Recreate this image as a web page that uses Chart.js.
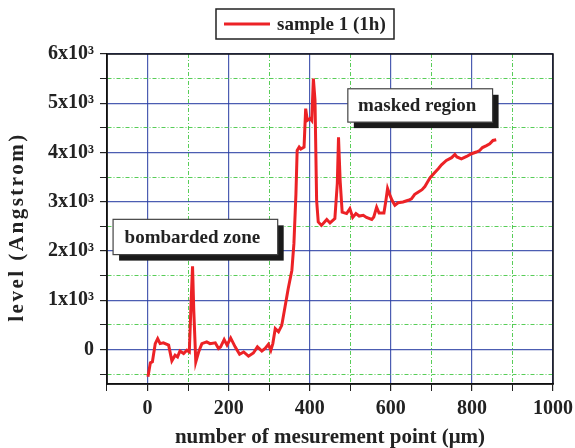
<!DOCTYPE html>
<html>
<head>
<meta charset="utf-8">
<script src="https://cdn.jsdelivr.net/npm/chart.js@4.4.0/dist/chart.umd.min.js"></script>
<style>
  html, body { margin: 0; padding: 0; background: #fff; }
  #wrap { width: 575px; height: 448px; }
</style>
</head>
<body>
<div id="wrap"><canvas id="levelChart"></canvas></div>
<script>
const pointX = [1, 7, 12, 19, 25, 31, 39, 52, 60, 68, 74, 80, 89, 97, 103, 107, 111, 114, 119, 126, 134, 146, 154, 167, 175, 180, 189, 196, 205, 216, 227, 237, 249, 261, 271, 282, 290, 298, 304, 309, 315, 323, 331, 339, 347, 356, 361, 366, 369, 374, 378, 386, 390, 394, 401, 405, 409, 413, 417, 421, 429, 442, 450, 462, 468, 471, 475, 480, 491, 499, 506, 514, 522, 532, 540, 553, 558, 565, 571, 583, 588, 592, 598, 603, 610, 618, 630, 643, 651, 659, 668, 677, 684, 692, 698, 709, 717, 725, 737, 750, 758, 763, 774, 787, 799, 811, 819, 826, 836, 844, 852, 860];
const levelY = [-555, -270, -250, 120, 220, 120, 135, 90, -230, -115, -150, -30, -80, -15, -50, 865, 1690, 800, -250, -50, 120, 155, 120, 135, 20, 50, 200, 90, 235, 55, -95, -50, -135, -70, 55, -30, 20, 105, -15, 120, 425, 360, 490, 865, 1240, 1610, 2150, 3160, 4040, 4110, 4070, 4110, 4890, 4650, 4690, 4650, 5500, 5060, 3030, 2590, 2520, 2640, 2570, 2660, 3370, 4310, 3430, 2790, 2760, 2860, 2680, 2760, 2710, 2725, 2680, 2640, 2690, 2890, 2770, 2770, 3030, 3270, 3130, 3030, 2930, 2980, 2995, 3030, 3060, 3150, 3200, 3245, 3310, 3420, 3500, 3600, 3670, 3750, 3840, 3895, 3960, 3910, 3870, 3920, 3975, 4010, 4040, 4100, 4140, 4175, 4245, 4260];

const xMin = -100, xMax = 1000;
const yMin = -700, yMax = 6000;
const xTicks = [-100, 0, 100, 200, 300, 400, 500, 600, 700, 800, 900, 1000];
const yTicks = [-500, 0, 500, 1000, 1500, 2000, 2500, 3000, 3500, 4000, 4500, 5000, 5500, 6000];

const seriesName = 'sample 1 (1h)';
const yTitle = 'level (Angstrom)';
const xTitle = 'number of mesurement point (\u03BCm)';

// text boxes placed in data units: [label, x0, x1, y0, y1]
const notes = [
  ['bombarded zone', -85, 321, 1927, 2643],
  ['masked region', 494, 851, 4617, 5294]
];

const serif = '"Liberation Serif", "DejaVu Serif", serif';
const red = 'rgb(236, 34, 38)';
const blue = 'rgba(45, 65, 165, 0.85)';
const green = 'rgba(70, 200, 70, 0.9)';

const points = pointX.map((x, i) => ({ x: x, y: levelY[i] }));

function yLabel(v) {
  if (v === 0) return '0';
  if (v % 1000 !== 0) return '';
  return (v / 1000) + 'x10\u00B3';
}

const isMajorX = c => c.tick && c.tick.value % 200 === 0;
const isMajorY = c => c.tick && c.tick.value % 1000 === 0;

// note boxes with drop shadow, plot frame, boxed legend, spaced y title
const decorations = {
  id: 'decorations',
  afterDatasetsDraw(chart) {
    const ctx = chart.ctx;
    const xs = chart.scales.x, ys = chart.scales.y;
    ctx.save();
    notes.forEach(n => {
      const l = xs.getPixelForValue(n[1]), r = xs.getPixelForValue(n[2]);
      const t = ys.getPixelForValue(n[4]), b = ys.getPixelForValue(n[3]);
      ctx.fillStyle = '#1a1a1a';
      ctx.fillRect(l + 6, t + 6, r - l, b - t);
      ctx.fillStyle = '#fff';
      ctx.fillRect(l, t, r - l, b - t);
      ctx.strokeStyle = '#444';
      ctx.lineWidth = 1.2;
      ctx.strokeRect(l, t, r - l, b - t);
      ctx.fillStyle = '#222';
      ctx.font = 'bold 19px ' + serif;
      ctx.textAlign = 'center';
      ctx.textBaseline = 'middle';
      ctx.fillText(n[0], (l + r) / 2 - 3, (t + b) / 2 + 1);
    });

    const a = chart.chartArea;
    ctx.strokeStyle = '#111';
    ctx.lineWidth = 1.5;
    ctx.strokeRect(a.left, a.top, a.right - a.left, a.bottom - a.top);

    // legend
    const lx = a.left + 109, ly = 9;
    ctx.strokeStyle = '#222';
    ctx.lineWidth = 1.5;
    ctx.strokeRect(lx, ly, 178, 30);
    ctx.strokeStyle = red;
    ctx.lineWidth = 3;
    ctx.beginPath();
    ctx.moveTo(lx + 8, ly + 15);
    ctx.lineTo(lx + 54, ly + 15);
    ctx.stroke();
    ctx.fillStyle = '#222';
    ctx.font = 'bold 19px ' + serif;
    ctx.textAlign = 'left';
    ctx.textBaseline = 'middle';
    ctx.fillText(seriesName, lx + 61, ly + 16);

    // y axis title, slightly letter-spaced
    ctx.translate(ys.left + 12, (a.top + a.bottom) / 2 + 8);
    ctx.rotate(-Math.PI / 2);
    ctx.font = 'bold 21px ' + serif;
    ctx.letterSpacing = '2.5px';
    ctx.textAlign = 'center';
    ctx.fillText(yTitle, 0, 0);
    ctx.restore();
  }
};

const ctx = document.getElementById('levelChart').getContext('2d');
new Chart(ctx, {
  type: 'line',
  data: {
    datasets: [{
      label: seriesName,
      data: points,
      borderColor: red,
      backgroundColor: red,
      borderWidth: 3,
      pointRadius: 0,
      tension: 0
    }]
  },
  options: {
    responsive: true,
    maintainAspectRatio: false,
    animation: false,
    layout: { padding: { top: 54, right: 22, bottom: 0, left: 6 } },
    scales: {
      x: {
        type: 'linear',
        min: xMin, max: xMax,
        afterBuildTicks: s => { s.ticks = xTicks.map(v => ({ value: v })); },
        afterFit: s => { s.paddingRight = 20; },
        ticks: {
          autoSkip: false,
          maxRotation: 0,
          color: '#222',
          font: { family: serif, size: 20, weight: 'bold', lineHeight: 1 },
          padding: 8,
          callback: v => (v % 200 === 0 ? String(v) : '')
        },
        grid: {
          color: c => (isMajorX(c) ? blue : green),
          lineWidth: c => (isMajorX(c) ? 1.2 : 1),
          tickColor: '#222',
          tickLength: 7
        },
        border: {
          color: '#111', width: 1.5,
          dash: c => (isMajorX(c) ? [] : [4, 2, 1, 2])
        },
        title: {
          display: true,
          text: xTitle,
          color: '#222',
          font: { family: serif, size: 21, weight: 'bold', lineHeight: 1 },
          padding: { top: 0, bottom: 0 }
        }
      },
      y: {
        min: yMin, max: yMax,
        afterBuildTicks: s => { s.ticks = yTicks.map(v => ({ value: v })); },
        ticks: {
          autoSkip: false,
          color: '#222',
          font: { family: serif, size: 20, weight: 'bold' },
          padding: 6,
          callback: v => yLabel(v)
        },
        grid: {
          color: c => (isMajorY(c) ? blue : green),
          lineWidth: c => (isMajorY(c) ? 1.2 : 1),
          tickColor: '#222',
          tickLength: 7
        },
        border: {
          color: '#111', width: 1.5,
          dash: c => (isMajorY(c) ? [] : [4, 2, 1, 2])
        },
        // space is kept here, the text itself is painted by the plugin
        title: {
          display: true,
          text: yTitle,
          color: 'rgba(0, 0, 0, 0)',
          font: { family: serif, size: 20, weight: 'bold' },
          padding: { top: 0, bottom: 12 }
        }
      }
    },
    plugins: {
      legend: { display: false },
      tooltip: { enabled: false }
    }
  },
  plugins: [decorations]
});
</script>
</body>
</html>
